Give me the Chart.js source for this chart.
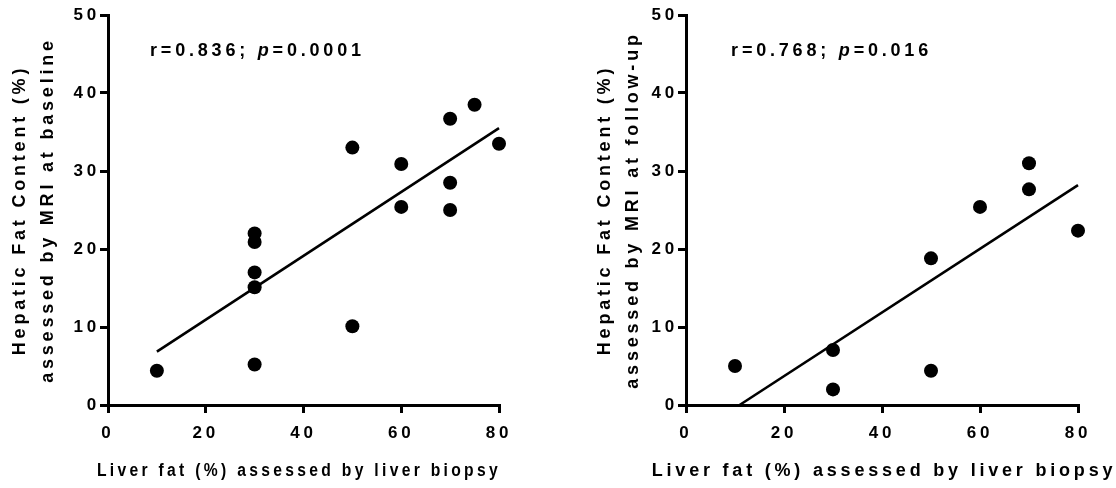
<!DOCTYPE html>
<html><head><meta charset="utf-8">
<script src="https://cdn.jsdelivr.net/npm/chart.js@4.4.0/dist/chart.umd.min.js"></script>
<style>
html,body{margin:0;padding:0;background:#fff;width:1116px;height:488px;overflow:hidden}
.box{position:absolute;top:0;width:558px;height:488px}
#b1{left:0}#b2{left:558px}
</style></head><body>
<div class="box" id="b1"><canvas id="c1"></canvas></div>
<div class="box" id="b2"><canvas id="c2"></canvas></div>
<script>
// ---- data ----
const xTicks = [0, 20, 40, 60, 80];
const yTicks = [0, 10, 20, 30, 40, 50];
const xTitle = 'Liver fat (%) assessed by liver biopsy';
const yTitleBaseline = ['Hepatic Fat Content (%)', 'assessed by MRI at baseline'];
const yTitleFollow = ['Hepatic Fat Content (%)', 'assessed by MRI at follow-up'];

const baselineBiopsy = [10, 30, 30, 30, 30, 30, 50, 50, 60, 60, 70, 70, 70, 75, 80];
const baselineMRI    = [4.4, 5.2, 15.1, 17.0, 20.9, 22.0, 10.1, 33.0, 25.4, 30.9, 25.0, 28.5, 36.7, 38.5, 33.5];
const baselineFitX = [10, 80];
const baselineFitY = [6.85, 35.5];
const baselineStat = ['r=0.836; ', 'p', '=0.0001'];

const followBiopsy = [10, 30, 30, 50, 50, 60, 70, 70, 80];
const followMRI    = [5.0, 7.05, 2.0, 18.8, 4.4, 25.4, 31.0, 27.65, 22.35];
const followFitX = [10.94, 80];
const followFitY = [0, 28.2];
const followStat = ['r=0.768; ', 'p', '=0.016'];

// ---- helpers ----
const FONT = "'Liberation Sans', Arial, sans-serif";
const LS = '3.8px';
const spacingPlugin = {
  id: 'spacing',
  beforeLayout(c) { c.ctx.letterSpacing = LS; },
  beforeDraw(c) { c.ctx.letterSpacing = LS; }
};
const textPlugin = {
  id: 'texts',
  afterDraw(c, args, opts) {
    const ctx = c.ctx;
    ctx.save();
    ctx.letterSpacing = LS;
    ctx.fillStyle = '#000';
    ctx.textBaseline = 'middle';
    // statistics annotation
    ctx.textAlign = 'left';
    let x = c.scales.x.getPixelForValue(opts.statAt[0]);
    const y = c.scales.y.getPixelForValue(opts.statAt[1]);
    opts.stat.forEach((t, i) => {
      ctx.font = (i === 1 ? 'italic bold ' : 'bold ') + '18px ' + FONT;
      ctx.fillText(t, x, y);
      x += ctx.measureText(t).width;
    });
    // x axis title
    ctx.textAlign = 'center';
    ctx.font = 'bold 18px ' + FONT;
    ctx.fillText(xTitle, opts.titleX, opts.titleY, opts.titleW);
    ctx.restore();
  }
};

function makeChart(id, xs, ys, fx, fy, yTitle, stat, statAt, axisW, titlePadTop, padRight, titleX, titleW) {
  const pts = xs.map((v, i) => ({x: v, y: ys[i]}));
  const fit = fx.map((v, i) => ({x: v, y: fy[i]}));
  return new Chart(document.getElementById(id), {
    type: 'scatter',
    data: {
      datasets: [
        {data: pts, pointRadius: 7, pointHoverRadius: 7, backgroundColor: '#000', borderColor: '#000', borderWidth: 0, clip: false},
        {type: 'line', data: fit, showLine: true, pointRadius: 0, borderColor: '#000', borderWidth: 2.6, fill: false, clip: false}
      ]
    },
    options: {
      responsive: true,
      maintainAspectRatio: false,
      animation: false,
      events: [],
      layout: {padding: {top: 15, right: padRight, bottom: 0, left: 0}},
      plugins: {legend: {display: false}, tooltip: {enabled: false},
        texts: {stat: stat, statAt: statAt, titleX: titleX, titleY: 471, titleW: titleW}},
      scales: {
        x: {
          type: 'linear', min: 0, max: 80,
          afterBuildTicks: s => { s.ticks = xTicks.map(v => ({value: v})); },
          afterFit: s => { s.height = 83; },
          border: {display: true, width: 3, color: '#000'},
          grid: {display: true, drawOnChartArea: false, drawTicks: true, tickLength: 8, lineWidth: 3, color: '#000'},
          ticks: {color: '#000', padding: 10, maxRotation: 0, font: {family: FONT, size: 17, weight: 'bold'}},
          title: {display: false}
        },
        y: {
          type: 'linear', min: 0, max: 50,
          afterBuildTicks: s => { s.ticks = yTicks.map(v => ({value: v})); },
          afterFit: s => { s.width = axisW; },
          border: {display: true, width: 3, color: '#000'},
          grid: {display: true, drawOnChartArea: false, drawTicks: true, tickLength: 8, lineWidth: 3, color: '#000'},
          ticks: {color: '#000', padding: 0, font: {family: FONT, size: 17, weight: 'bold'}},
          title: {display: true, text: yTitle, color: '#000', padding: {top: titlePadTop, bottom: 0}, font: {family: FONT, size: 18, weight: 'bold', lineHeight: 1.56}}
        }
      }
    },
    plugins: [spacingPlugin, textPlugin]
  });
}

makeChart('c1', baselineBiopsy, baselineMRI, baselineFitX, baselineFitY, yTitleBaseline, baselineStat, [8.6, 45.4], 108, 6, 59, 299, 404);
makeChart('c2', followBiopsy, followMRI, followFitX, followFitY, yTitleFollow, followStat, [9.2, 45.4], 128, 33, 38, 326, 470);
</script>
</body></html>
